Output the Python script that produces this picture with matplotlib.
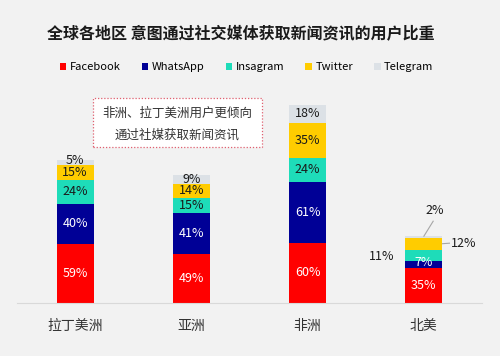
import numpy as np
import matplotlib.pyplot as plt
from matplotlib.patches import Patch, FancyBboxPatch

plt.rcParams['font.family'] = ['Noto Sans CJK SC', 'DejaVu Sans']

REGIONS = ["拉丁美洲", "亚洲", "非洲", "北美"]
SERIES = ["Facebook", "WhatsApp", "Insagram", "Twitter", "Telegram"]
facebook = [59, 49, 60, 35]
whatsapp = [40, 41, 61, 7]
insagram = [24, 15, 24, 11]
twitter = [15, 14, 35, 12]
telegram = [5, 9, 18, 2]

COLORS = ["#ff0000", "#000096", "#1edcb9", "#ffcc00", "#dce1e6"]
TEXT_COLORS = ["white", "white", "#1a1a1a", "#1a1a1a", "#1a1a1a"]
BG = "#f2f2f2"

values = np.array([facebook, whatsapp, insagram, twitter, telegram])

fig = plt.figure(figsize=(5.0, 3.56), dpi=100, facecolor=BG)
ax = fig.add_axes([17 / 500, 1 - 302.7 / 356, 465 / 500, 202.7 / 356])
ax.set_facecolor(BG)

x = np.arange(len(REGIONS))
bottom = np.zeros(len(REGIONS))
for s, name in enumerate(SERIES):
    ax.bar(x, values[s], 0.32, bottom=bottom, color=COLORS[s], label=name)
    for i in range(len(REGIONS)):
        if i == 3 and s >= 2:
            continue
        y = bottom[i] + values[s][i] / 2
        if values[s][i] < 8:
            y += 2
        ax.text(x[i], y, f"{values[s][i]}%",
                ha="center", va="center", fontsize=9, color=TEXT_COLORS[s])
    bottom += values[s]

# north america small segments: labels outside
na = 3
ins_mid = values[0][na] + values[1][na] + values[2][na] / 2
tw_mid = values[:3, na].sum() + values[3][na] / 2
tg_top = values[:, na].sum()
ax.text(na - 0.25, ins_mid - 1, f"{insagram[na]}%", ha="right", va="center",
        fontsize=9, color="#1a1a1a")
ax.plot([na + 0.16, na + 0.22], [tw_mid, tw_mid + 0.5], color="#a6a6a6", lw=0.8)
ax.text(na + 0.23, tw_mid + 0.5, f"{twitter[na]}%", ha="left", va="center",
        fontsize=9, color="#1a1a1a")
ax.plot([na, na + 0.08], [tg_top - 0.5, tg_top + 14.5], color="#a6a6a6", lw=0.8)
ax.text(na + 0.09, tg_top + 25, f"{telegram[na]}%", ha="center", va="center",
        fontsize=9, color="#1a1a1a")

ax.set_xlim(-0.5, 3.5)
ax.set_ylim(0, 202.7)
ax.set_xticks(x)
ax.set_xticklabels(REGIONS, fontsize=10, color="#333333")
ax.tick_params(axis="x", length=0, pad=12)
ax.set_yticks([])
for side in ["top", "right", "left"]:
    ax.spines[side].set_visible(False)
ax.spines["bottom"].set_color("#d9d9d9")

fig.text(0.482, 1 - 33 / 356, "全球各地区 意图通过社交媒体获取新闻资讯的用户比重",
         ha="center", va="center", fontsize=11.5, fontweight="bold", color="#1a1a1a")

handles = [Patch(facecolor=c, edgecolor="none") for c in COLORS]
fig.legend(handles, SERIES, loc="center", bbox_to_anchor=(0.493, 1 - 67 / 356),
           ncol=5, frameon=False, fontsize=8, handlelength=0.6, handleheight=0.6,
           handletextpad=0.3, columnspacing=1.9)

# callout box
box = FancyBboxPatch((93 / 500, 1 - 146.7 / 356), 169 / 500, 48.4 / 356,
                     boxstyle="square,pad=0", transform=fig.transFigure,
                     facecolor="white", edgecolor="#e06070", lw=0.9,
                     linestyle=(0, (1, 1.5)))
fig.patches.append(box)
fig.text(177 / 500, 1 - 113 / 356, "非洲、拉丁美洲用户更倾向", ha="center", va="center",
         fontsize=9, color="#333333")
fig.text(177 / 500, 1 - 135 / 356, "通过社媒获取新闻资讯", ha="center", va="center",
         fontsize=9, color="#333333")

fig.savefig("out.png", dpi=100, facecolor=BG)
